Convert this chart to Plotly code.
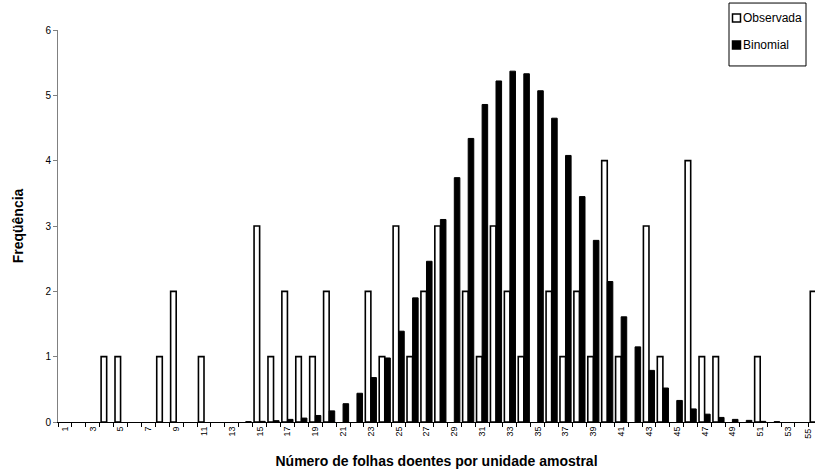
import plotly.graph_objects as go

# Número de folhas doentes por unidade amostral (1..55)
categorias = list(range(1, 56))

# Frequência observada
observada = [0, 0, 0, 1, 1, 0, 0, 1, 2, 0,
             1, 0, 0, 0, 3, 1, 2, 1, 1, 2,
             0, 0, 2, 1, 3, 1, 2, 3, 0, 2,
             1, 3, 2, 1, 0, 2, 1, 2, 1, 4,
             1, 0, 3, 1, 0, 4, 1, 1, 0, 0,
             1, 0, 0, 0, 2]

# Frequência esperada pela distribuição binomial
binomial = [0, 0, 0, 0, 0, 0, 0, 0, 0, 0,
            0, 0, 0, 0.005, 0.01, 0.02, 0.04, 0.06, 0.10, 0.17,
            0.28, 0.44, 0.68, 0.98, 1.39, 1.90, 2.46, 3.10, 3.74, 4.34,
            4.86, 5.22, 5.37, 5.33, 5.07, 4.65, 4.08, 3.45, 2.78, 2.15,
            1.61, 1.15, 0.79, 0.52, 0.33, 0.20, 0.12, 0.07, 0.04, 0.025,
            0.01, 0.005, 0, 0, 0]

rotulos_x = [str(c) for c in categorias if c % 2 == 1]

FONT = "Arial, 'Liberation Sans', sans-serif"
W, H = 815, 475
ML, MR, MT, MB = 58, 0, 30, 52.5
X_RANGE = [0.5, 54.94]

fig = go.Figure()
fig.add_trace(go.Bar(
    x=categorias,
    y=[v if v > 0 else None for v in observada],
    name="Observada",
    marker=dict(color="white", line=dict(color="black", width=1.6)),
))
fig.add_trace(go.Bar(
    x=categorias,
    y=[v if v > 0 else None for v in binomial],
    name="Binomial",
    marker=dict(color="black", line=dict(color="black", width=1)),
))

fig.update_layout(
    width=W, height=H,
    margin=dict(l=ML, r=MR, t=MT, b=MB, autoexpand=False),
    paper_bgcolor="white", plot_bgcolor="white",
    barmode="group", bargap=0.2, bargroupgap=0,
    font=dict(family=FONT, color="black"),
    showlegend=False,
    xaxis=dict(
        range=X_RANGE,
        tickmode="array",
        tickvals=[c for c in categorias if c % 2 == 1],
        ticktext=rotulos_x,
        tickangle=-90,
        tickfont=dict(size=9, family=FONT, color="black"),
        ticks="", showgrid=False, zeroline=False,
        showline=True, linecolor="black", linewidth=1,
        minor=dict(tick0=0.5, dtick=1, ticks="outside", ticklen=4,
                   tickcolor="black", tickwidth=1, showgrid=False),
        title=dict(text="<b>Número de folhas doentes por unidade amostral</b>",
                   font=dict(size=14, family=FONT), standoff=20),
    ),
    yaxis=dict(
        range=[0, 6], tickmode="linear", tick0=0, dtick=1,
        tickfont=dict(size=10, family=FONT, color="black"),
        ticks="outside", ticklen=4, tickcolor="#808080",
        showgrid=False, zeroline=False,
        showline=True, linecolor="#808080", linewidth=1,
        title=dict(text="<b>Freqüência</b>", font=dict(size=14, family=FONT),
                   standoff=18),
    ),
)

# Conversão de pixels da página para coordenadas "paper" (área de plotagem)
PW, PH = W - ML - MR, H - MT - MB

def px_x(p):
    return (p - ML) / PW

def px_y(p):
    return (H - MB - p) / PH

# Rótulo da última categoria, na borda direita do eixo
fig.add_annotation(
    x=(categorias[-1] - X_RANGE[0]) / (X_RANGE[1] - X_RANGE[0]),
    xref="paper", y=0, yref="paper",
    text=rotulos_x[-1], textangle=-90, showarrow=False,
    xanchor="center", yanchor="top", yshift=-5, xshift=-8,
    font=dict(size=9, family=FONT, color="black"),
)

# Legenda em caixa no canto superior direito
fig.add_shape(type="rect", xref="paper", yref="paper",
              x0=px_x(729), x1=px_x(806), y0=px_y(66), y1=px_y(3),
              line=dict(color="black", width=1), fillcolor="white",
              layer="above")

itens = [("Observada", "white", 18), ("Binomial", "black", 45)]
for nome, cor, yc in itens:
    fig.add_shape(type="rect", xref="paper", yref="paper",
                  x0=px_x(732.5), x1=px_x(740.5),
                  y0=px_y(yc + 4), y1=px_y(yc - 4),
                  line=dict(color="black", width=1.5), fillcolor=cor,
                  layer="above")
    fig.add_annotation(x=px_x(741), y=px_y(yc), xref="paper", yref="paper",
                       text=nome, showarrow=False, xanchor="left",
                       yanchor="middle",
                       font=dict(size=12, family=FONT, color="black"))

fig.write_html("out.html")
